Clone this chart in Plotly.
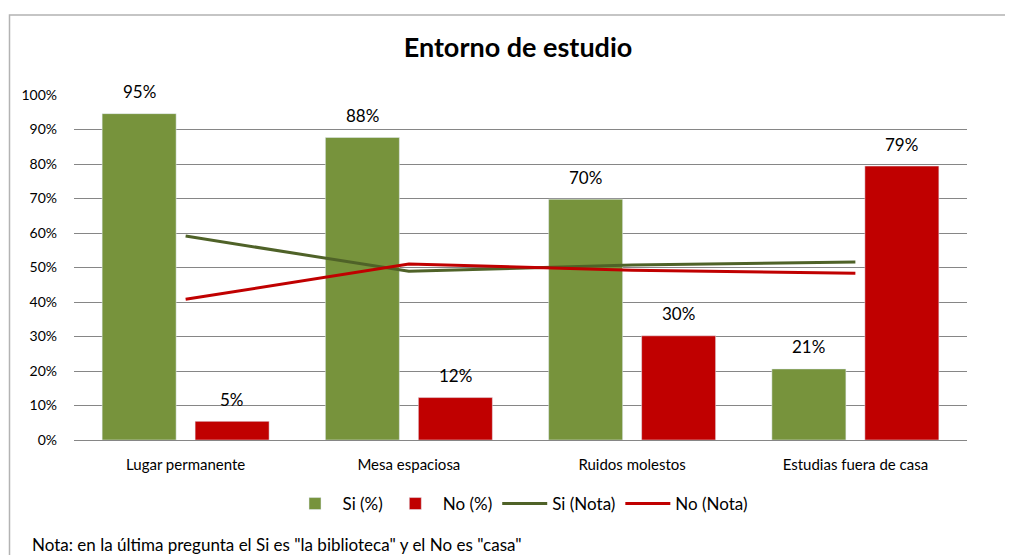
import plotly.graph_objects as go

categories = ["Lugar permanente", "Mesa espaciosa", "Ruidos molestos", "Estudias fuera de casa"]
si_pct = [94.6, 87.7, 69.8, 20.6]
no_pct = [5.4, 12.3, 30.2, 79.4]
si_nota = [59.1, 48.9, 50.7, 51.6]
no_nota = [40.8, 51.0, 49.2, 48.3]
y_ticks = [0, 10, 20, 30, 40, 50, 60, 70, 80, 90, 100]
y_tick_labels = [f"{v}%" for v in y_ticks]

GREEN = "#77933C"
RED = "#C00000"
DKGREEN = "#4F6228"
FONT = "Lato"

# page has an 8px body margin: lay out in page pixels, convert to figure pixels
OFF = 8
W, H = 1013 - OFF, 555 - OFF
PL, PR, PT, PB = 74, 967, 95, 440          # plot area in page pixels
L, R, T, B = PL - OFF, W - (PR - OFF), PT - OFF, H - (PB - OFF)
pw, ph = W - L - R, H - T - B

def px_to_paper_x(px):
    return (px - OFF - L) / pw

def px_to_paper_y(py):
    return (H - B - (py - OFF)) / ph

fig = go.Figure()
fig.add_trace(go.Bar(name="Si (%)", x=categories, y=si_pct, marker_color=GREEN))
fig.add_trace(go.Bar(name="No (%)", x=categories, y=no_pct, marker_color=RED))
fig.add_trace(go.Scatter(name="Si (Nota)", x=categories, y=si_nota, mode="lines",
                         line=dict(color=DKGREEN, width=3)))
fig.add_trace(go.Scatter(name="No (Nota)", x=categories, y=no_nota, mode="lines",
                         line=dict(color=RED, width=3)))

annotations = []
for vals, shift in ((si_pct, -46.5), (no_pct, 46.5)):
    for c, v in zip(categories, vals):
        annotations.append(dict(x=c, y=v, xref="x", yref="y", text=f"{v:.0f}%",
                                showarrow=False, xshift=shift, yshift=22, yanchor="middle",
                                font=dict(family=FONT, size=17, color="#000000")))
annotations.append(dict(x=px_to_paper_x(30), y=px_to_paper_y(544), xref="paper", yref="paper",
                        xanchor="left", yanchor="middle", showarrow=False,
                        text='Nota: en la última pregunta el Si es "la biblioteca" y el No es "casa"',
                        font=dict(family=FONT, size=17, color="#000000")))

fig.update_layout(
    width=W, height=H,
    margin=dict(l=L, r=R, t=T, b=B),
    paper_bgcolor="white", plot_bgcolor="white",
    title=dict(text="<b>Entorno de estudio</b>", x=(518 - OFF) / W, xref="container",
               xanchor="center", y=1 - (48 - OFF) / H, yref="container", yanchor="middle",
               font=dict(family=FONT, size=27, color="#000000")),
    barmode="group", bargap=0.167, bargroupgap=0.204,
    showlegend=True,
    legend=dict(orientation="h", x=0.5, xanchor="center", y=px_to_paper_y(504), yanchor="middle",
                font=dict(family=FONT, size=17, color="#000000"), itemwidth=45,
                traceorder="normal"),
    annotations=annotations,
    shapes=[dict(type="rect", xref="paper", yref="paper",
                 x0=px_to_paper_x(9.5), x1=px_to_paper_x(1011.5),
                 y0=px_to_paper_y(600), y1=px_to_paper_y(15),
                 line=dict(color="#B3B3B3", width=1.5), layer="below")],
    font=dict(family=FONT, color="#000000"),
)
fig.update_xaxes(type="category", showgrid=False, showline=True, linecolor="#868686", linewidth=1,
                 tickfont=dict(family=FONT, size=15, color="#000000"), ticks="",
                 ticklabelstandoff=11, fixedrange=True)
fig.update_yaxes(range=[0, 100], tickvals=y_ticks, ticktext=y_tick_labels, showgrid=True,
                 gridcolor="#868686", gridwidth=1, zeroline=False, showline=False,
                 tickfont=dict(family=FONT, size=14, color="#000000"), ticks="",
                 ticklabelstandoff=16, fixedrange=True)

fig.write_html("out.html")
